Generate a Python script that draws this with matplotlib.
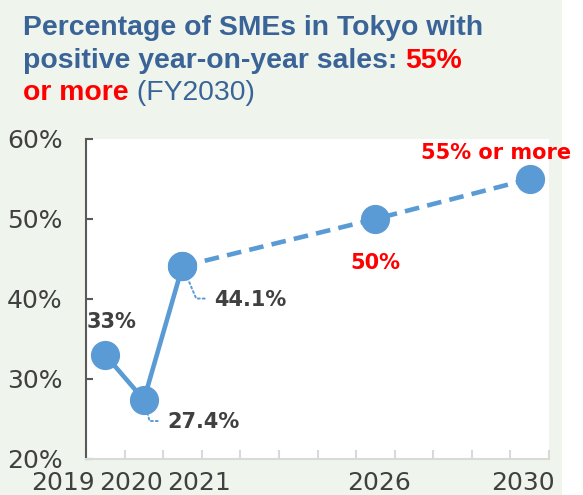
import matplotlib
matplotlib.use("Agg")
import matplotlib.pyplot as plt
from matplotlib.patches import Rectangle
from matplotlib.ticker import FixedLocator, FuncFormatter, NullLocator

# data
years = [str(y) for y in range(2019, 2031)]
actual_idx = [0, 1, 2]
actual_vals = [33.0, 27.4, 44.1]
target_idx = [2, 7, 11]
target_vals = [44.1, 50.0, 55.0]
label_years = ['2019', '2020', '2021', '2026', '2030']
label_pos = [-1.10, 0.67, 2.43, 7.09, 10.83]   # labels sit spread out like the original
y_ticks = [20, 30, 40, 50, 60]

blue = '#5b9bd5'
title_blue = '#3a6497'
red = '#ff0000'
grey = '#404040'
bg = '#eff5ec'

W, H = 583, 495
fig = plt.figure(figsize=(W / 100, H / 100), dpi=100, facecolor='white')
fig.patches.append(Rectangle((0, 0), 562 / W, 1, transform=fig.transFigure,
                             facecolor=bg, edgecolor='none', zorder=-10))

ax = fig.add_axes([86 / W, (H - 459) / H, (549 - 86) / W, (459 - 139) / H])
ax.set_facecolor('white')

ax.plot(actual_idx, actual_vals, color=blue, lw=3.3, marker='o', ms=20,
        solid_capstyle='round', zorder=3)
ax.plot(target_idx, target_vals, color=blue, lw=3.3, ls=(0, (3.2, 1.8)),
        marker='o', ms=20, zorder=3)

# axes styling
for s in ['top', 'right']:
    ax.spines[s].set_visible(False)
ax.spines['left'].set_color('#595959')
ax.spines['left'].set_linewidth(1.5)
ax.spines['bottom'].set_color('#d9d9d9')
ax.spines['bottom'].set_linewidth(1.5)

ax.set_yticks(y_ticks)
ax.yaxis.set_major_formatter(FuncFormatter(lambda v, p: f'{v:.0f}%'))
ax.tick_params(axis='y', direction='in', length=5, width=1.5, color='#595959',
               labelsize=18, labelcolor=grey, pad=17)

# x axis: tick marks between categories, year labels placed as text
ax.xaxis.set_major_locator(FixedLocator([i - 0.5 for i in range(len(years) + 1)]))
ax.xaxis.set_minor_locator(NullLocator())
ax.tick_params(axis='x', direction='in', length=6.5, width=1.5,
               color='#d9d9d9', labelbottom=False)
for pos, txt in zip(label_pos, label_years):
    ax.annotate(txt, xy=(pos, 0), xycoords=('data', 'axes fraction'),
                xytext=(0, -9), textcoords='offset points', ha='center',
                va='top', fontsize=18, color=grey, annotation_clip=False)

ax.set_xlim(-0.5, len(years) - 0.5)
ax.set_ylim(20, 60)

# data labels
lab = dict(fontsize=15, fontweight='bold', color=grey, ha='center',
           va='center', textcoords='offset points', annotation_clip=False)
dotted = dict(arrowstyle='-', ls=(0, (1, 1.5)), color=blue, lw=1.4)

ax.annotate('33%', xy=(actual_idx[0], actual_vals[0]), xytext=(4.5, 24),
            arrowprops=dict(dotted, shrinkA=8, shrinkB=10), **lab)
ax.annotate('27.4%', xy=(actual_idx[1], actual_vals[1]), xytext=(43, -16),
            arrowprops=dict(dotted, shrinkA=5, shrinkB=8, relpos=(0, 0.55),
                            connectionstyle='angle,angleA=0,angleB=-75,rad=0'),
            **lab)
ax.annotate('44.1%', xy=(actual_idx[2], actual_vals[2]), xytext=(49, -24),
            arrowprops=dict(dotted, shrinkA=5, shrinkB=8, relpos=(0, 0.55),
                            connectionstyle='angle,angleA=0,angleB=-67,rad=0'),
            **lab)
ax.annotate('50%', xy=(target_idx[1], target_vals[1]), xytext=(0, -32),
            **dict(lab, color=red))
ax.annotate('55% or more', xy=(target_idx[2], target_vals[2]), xytext=(-24, 19),
            **dict(lab, color=red))

# title made of coloured pieces
renderer = fig.canvas.get_renderer()


def line(pieces, x0, base_y):
    x = x0
    for txt, col, wt in pieces:
        t = fig.text(x / W, 1 - base_y / H, txt, color=col, fontsize=20.4,
                     fontweight=wt, family='Liberation Sans', va='baseline')
        bb = t.get_window_extent(renderer)
        x += bb.width


line([('Percentage of SMEs in Tokyo with', title_blue, 'bold')], 23, 35)
line([('positive year-on-year sales: ', title_blue, 'bold'),
      ('55%', red, 'bold')], 23, 68)
line([('or more', red, 'bold'), (' (FY2030)', title_blue, 'normal')], 23, 100)

fig.savefig('out.png', dpi=100, facecolor=fig.get_facecolor())
